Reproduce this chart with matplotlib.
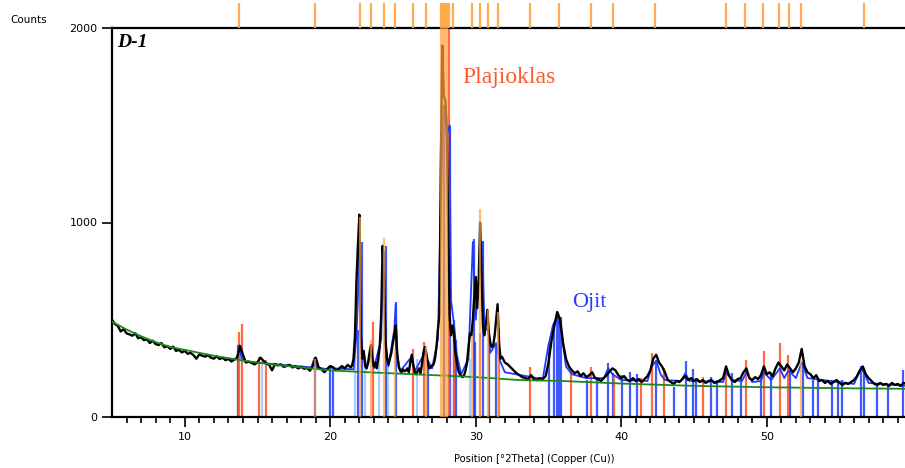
import numpy as np
import matplotlib
matplotlib.use('Agg')
import matplotlib.pyplot as plt

obs_low = [(5.0, 500), (5.2, 478), (5.4, 468), (5.6, 440), (5.8, 452), (6.0, 430), (6.2, 425),
           (6.4, 418), (6.6, 430), (6.8, 405), (7.0, 410), (7.2, 395), (7.4, 400), (7.6, 380),
           (7.8, 392), (8.0, 375), (8.2, 370), (8.4, 380), (8.6, 358), (8.8, 365), (9.0, 350),
           (9.2, 362), (9.4, 340), (9.6, 345), (9.8, 332), (10.0, 340), (10.2, 325), (10.4, 330),
           (10.6, 318), (10.8, 300), (11.0, 322), (11.2, 315), (11.4, 310), (11.6, 318), (11.8, 305),
           (12.0, 300), (12.2, 312), (12.4, 298), (12.6, 305), (12.8, 292), (13.0, 300), (13.2, 285),
           (13.4, 295), (13.6, 305), (13.8, 365), (14.0, 320), (14.2, 280), (14.4, 285), (14.6, 278),
           (14.8, 270), (15.0, 282), (15.2, 305), (15.4, 290), (15.6, 275), (15.8, 268), (16.0, 240),
           (16.2, 272), (16.4, 265), (16.6, 270), (16.8, 258), (17.0, 262), (17.2, 268), (17.4, 255),
           (17.6, 260), (17.8, 250), (18.0, 258), (18.2, 248), (18.4, 252), (18.6, 238), (18.8, 262),
           (19.0, 305), (19.2, 255), (19.4, 245), (19.6, 230), (19.8, 248), (20.0, 262), (20.2, 255),
           (20.4, 240), (20.6, 248), (20.8, 262), (21.0, 250), (21.2, 268), (21.4, 255)]
obs_mid = [(21.5, 265), (21.6, 300), (21.7, 420), (21.8, 700), (21.9, 880), (22.0, 1040), (22.1, 420),
           (22.2, 300), (22.3, 340), (22.4, 260), (22.5, 250), (22.6, 280), (22.7, 330), (22.8, 370),
           (22.9, 300), (23.0, 260), (23.1, 280), (23.2, 250), (23.3, 300), (23.4, 360), (23.5, 520),
           (23.6, 880), (23.7, 700), (23.8, 380), (23.9, 300), (24.0, 270), (24.1, 300), (24.2, 330),
           (24.3, 380), (24.4, 420), (24.5, 470), (24.6, 330), (24.7, 260), (24.8, 240), (24.9, 230),
           (25.0, 245), (25.1, 235), (25.2, 240), (25.3, 250), (25.4, 230), (25.5, 280), (25.6, 320),
           (25.7, 270), (25.8, 230), (25.9, 220), (26.0, 235), (26.1, 250), (26.2, 225), (26.3, 270),
           (26.4, 330), (26.5, 360), (26.6, 330), (26.7, 280), (26.8, 250), (26.9, 255), (27.0, 265),
           (27.1, 270), (27.2, 300), (27.3, 360), (27.4, 450), (27.5, 520), (27.6, 1300), (27.7, 1910),
           (27.8, 1650), (27.9, 1630), (28.0, 1500), (28.1, 1000), (28.2, 520), (28.3, 420), (28.4, 470),
           (28.5, 430), (28.6, 330), (28.7, 280), (28.8, 240), (28.9, 220), (29.0, 210), (29.1, 205),
           (29.2, 215), (29.3, 240), (29.4, 280), (29.5, 360), (29.6, 430), (29.7, 420), (29.8, 500),
           (29.9, 620), (30.0, 720), (30.1, 560), (30.2, 700), (30.3, 1000), (30.4, 700), (30.5, 460),
           (30.6, 420), (30.7, 480), (30.8, 550), (30.9, 430), (31.0, 380), (31.1, 360), (31.2, 370),
           (31.3, 420), (31.4, 500), (31.5, 580), (31.6, 380), (31.7, 300), (31.8, 310), (31.9, 295),
           (32.0, 280)]
obs_high = [(32.2, 270), (32.4, 255), (32.6, 240), (32.8, 225), (33.0, 215), (33.2, 205), (33.4, 200),
            (33.6, 195), (33.8, 215), (34.0, 195), (34.2, 190), (34.4, 200), (34.6, 195), (34.8, 210),
            (35.0, 280), (35.2, 390), (35.4, 470), (35.6, 540), (35.8, 500), (36.0, 380), (36.2, 300),
            (36.4, 260), (36.6, 240), (36.8, 225), (37.0, 235), (37.2, 210), (37.4, 225), (37.6, 205),
            (37.8, 215), (38.0, 230), (38.2, 200), (38.4, 195), (38.6, 185), (38.8, 200), (39.0, 215),
            (39.2, 235), (39.4, 250), (39.6, 240), (39.8, 215), (40.0, 200), (40.2, 210), (40.4, 190),
            (40.6, 185), (40.8, 200), (41.0, 185), (41.2, 195), (41.4, 180), (41.6, 195), (41.8, 210),
            (42.0, 240), (42.2, 300), (42.4, 320), (42.6, 280), (42.8, 260), (43.0, 230), (43.2, 190),
            (43.4, 180), (43.6, 170), (43.8, 185), (44.0, 180), (44.2, 195), (44.4, 210), (44.6, 190),
            (44.8, 200), (45.0, 185), (45.2, 195), (45.4, 180), (45.6, 190), (45.8, 175), (46.0, 185),
            (46.2, 190), (46.4, 175), (46.6, 180), (46.8, 190), (47.0, 200), (47.2, 260), (47.4, 215),
            (47.6, 190), (47.8, 180), (48.0, 195), (48.2, 200), (48.4, 230), (48.6, 250), (48.8, 200),
            (49.0, 190), (49.2, 205), (49.4, 195), (49.6, 215), (49.8, 260), (50.0, 220), (50.2, 230),
            (50.4, 210), (50.6, 250), (50.8, 280), (51.0, 260), (51.2, 240), (51.4, 270), (51.6, 250),
            (51.8, 230), (52.0, 250), (52.2, 280), (52.4, 350), (52.6, 260), (52.8, 230), (53.0, 220),
            (53.2, 200), (53.4, 215), (53.6, 185), (53.8, 190), (54.0, 175), (54.2, 185), (54.4, 170),
            (54.6, 180), (54.8, 190), (55.0, 175), (55.2, 165), (55.4, 175), (55.6, 170), (55.8, 180),
            (56.0, 190), (56.2, 210), (56.4, 240), (56.6, 260), (56.8, 220), (57.0, 200), (57.2, 185),
            (57.4, 170), (57.6, 165), (57.8, 175), (58.0, 165), (58.2, 170), (58.4, 160), (58.6, 175),
            (58.8, 165), (59.0, 170), (59.2, 160), (59.4, 175), (59.6, 170)]

# fitted background (green)
bg_tt = [5, 6, 7, 8, 9, 10, 12, 14, 16, 18, 20, 22, 25, 28, 30, 33, 36, 40, 45, 50, 55, 59.6]
bg_cnt = [490, 450, 415, 385, 360, 345, 315, 290, 270, 255, 240, 232, 222, 212, 205, 190, 185, 172, 160, 153, 148, 145]

# calculated profile (blue)
calc = [(13.0, 295), (13.6, 300), (13.75, 370), (13.9, 300), (14.2, 285), (18.7, 255),
        (18.9, 300), (19.1, 255), (19.8, 245), (20.0, 258), (20.2, 250), (21.6, 245), (21.8, 420),
        (21.9, 600), (22.0, 900), (22.1, 420), (22.2, 300), (22.3, 330), (22.5, 250), (22.8, 330),
        (23.0, 250), (23.5, 400), (23.6, 800), (23.7, 850), (23.8, 380), (24.0, 260), (24.4, 450),
        (24.5, 580), (24.6, 320), (24.8, 235), (25.6, 310), (25.8, 235), (26.5, 330), (26.7, 290),
        (27.0, 250), (27.4, 400), (27.6, 1100), (27.8, 1600), (28.0, 1450), (28.2, 1500), (28.3, 600),
        (28.5, 480), (28.7, 320), (29.0, 220), (29.5, 300), (29.8, 900), (30.0, 500), (30.3, 800),
        (30.45, 900), (30.6, 450), (30.85, 450), (31.0, 330), (31.4, 380), (31.6, 300), (32.0, 230),
        (34.6, 195), (35.0, 370), (35.3, 470), (35.6, 520), (35.9, 430), (36.2, 260), (36.6, 220),
        (37.6, 200), (38.8, 200), (39.1, 250), (39.4, 220), (40.0, 190), (41.8, 185), (42.1, 260),
        (42.4, 290), (42.7, 220), (43.0, 190), (44.1, 185), (44.4, 225), (44.7, 185), (47.0, 180),
        (47.2, 230), (47.6, 190), (48.3, 185), (48.6, 230), (49.0, 180), (49.6, 185), (49.8, 230),
        (50.3, 190), (50.9, 250), (51.2, 200), (51.5, 240), (52.0, 200), (52.4, 280), (52.8, 200),
        (56.0, 170), (56.5, 255), (57.0, 175), (59.6, 160)]

# reference sticks
plag_tt = [13.73, 18.94, 22.03, 22.81, 23.71, 24.48, 25.67, 26.56, 27.62, 27.76, 27.91, 28.05, 28.14,
           28.44, 29.75, 30.32, 30.86, 31.53, 33.75, 35.69, 37.89, 39.44, 42.33, 47.20, 48.52, 49.72,
           50.84, 51.50, 52.37, 56.65]
orange_tt = [18.94, 22.03, 22.81, 23.71, 24.48, 26.56, 27.62, 27.76, 27.91, 28.05, 29.75, 30.32, 30.86,
             31.53, 52.37]
orange_h = [300, 1030, 396, 922, 345, 361, 2100, 2100, 2100, 2100, 416, 1068, 550, 541, 300]
red_tt = [13.75, 13.96, 15.13, 15.60, 22.93, 25.67, 26.47, 28.14, 28.51, 30.27, 31.60, 33.75, 36.56,
          37.91, 39.51, 41.34, 42.12, 42.97, 45.60, 47.18, 48.55, 49.81, 50.90, 51.48]
red_h = [439, 478, 310, 293, 487, 350, 387, 2100, 457, 430, 457, 259, 233, 255, 207, 200, 331, 250,
         207, 255, 293, 341, 382, 319]
blue_tt = [13.69, 18.92, 19.97, 20.16, 21.90, 22.15, 23.84, 24.55, 26.73, 27.80, 28.26, 28.53, 28.67,
           29.86, 29.97, 30.48, 30.89, 31.41, 35.00, 35.40, 35.60, 35.75, 35.87, 37.64, 38.32, 39.12,
           39.42, 40.04, 40.60, 41.07, 42.37, 43.65, 44.45, 44.91, 45.14, 46.15, 46.56, 47.63, 48.20,
           49.60, 50.30, 51.59, 52.50, 53.17, 53.50, 54.50, 54.90, 55.20, 56.50, 56.67, 57.60, 58.30, 59.35]
blue_h = [370, 310, 259, 242, 447, 901, 881, 590, 293, 1606, 1498, 499, 396, 913, 387, 906, 447, 380,
          380, 473, 534, 520, 516, 190, 200, 276, 226, 216, 230, 220, 285, 156, 290, 245, 200, 207, 190,
          224, 200, 210, 220, 242, 285, 190, 190, 190, 190, 190, 262, 240, 170, 170, 242]
lblue_tt = [15.30, 21.69, 22.40, 23.34, 24.00, 25.97, 27.85, 29.60]
lblue_h = [290, 490, 250, 310, 260, 300, 800, 300]

ORANGE = '#ffa33a'
RED = '#ff5a2a'
BLUE = '#1f3cff'
LBLUE = '#a8d0ff'

fig = plt.figure(figsize=(9.05, 4.68), dpi=100)
ax = fig.add_axes([112 / 905, 51 / 468, 793 / 905, 389 / 468])
strip = fig.add_axes([112 / 905, 440 / 468, 793 / 905, 25 / 468])

otx, otc = zip(*(obs_low + obs_mid + obs_high))
ctx, ctc = zip(*calc)

ax.vlines(lblue_tt, 0, lblue_h, color=LBLUE, lw=1.6, zorder=1)
ax.vlines(blue_tt, 0, blue_h, color=BLUE, lw=1.6, alpha=0.85, zorder=2)
ax.vlines(red_tt, 0, red_h, color=RED, lw=1.6, alpha=0.9, zorder=2)
ax.plot(ctx, ctc, color=BLUE, lw=1.3, zorder=3)
ax.plot(otx, otc, color='black', lw=1.7, zorder=4)
ax.plot(bg_tt, bg_cnt, color='#1a8a1a', lw=1.3, zorder=5)
ax.vlines(orange_tt, 0, orange_h, color=ORANGE, lw=1.6, alpha=0.7, zorder=6)

ax.set_xlim(5, 59.5)
ax.set_ylim(0, 2000)
ax.set_yticks([0, 1000, 2000])
ax.set_xticks([10, 20, 30, 40, 50])
ax.set_xticks(np.arange(6, 60, 1), minor=True)
ax.tick_params(axis='both', labelsize=8, width=1.2, length=7, direction='out')
ax.tick_params(axis='x', which='minor', length=4, width=1.2)
ax.spines['right'].set_visible(False)
for s in ['left', 'bottom', 'top']:
    ax.spines[s].set_linewidth(1.6)

ax.text(0.006, 0.985, 'D-1', transform=ax.transAxes, ha='left', va='top',
        fontsize=14, fontweight='bold', style='italic', family='Liberation Serif')
ax.text(29.08, 1719, 'Plajioklas', color='#ff5a2a', fontsize=17, family='Liberation Serif',
        va='baseline')
ax.text(36.6, 567, 'Ojit', color='#2a3cff', fontsize=16, family='Liberation Serif',
        va='baseline')

strip.vlines(plag_tt, 0, 1, color=ORANGE, lw=1.6, alpha=0.9)
strip.set_xlim(5, 59.5)
strip.set_ylim(0, 1)
strip.axis('off')

fig.text(10 / 905, 1 - 20 / 468, 'Counts', fontsize=7.5, va='center')
fig.text(534 / 905, 1 - 459 / 468, 'Position [°2Theta] (Copper (Cu))', fontsize=7.2,
         ha='center', va='center')

fig.savefig('out.png', dpi=100)
